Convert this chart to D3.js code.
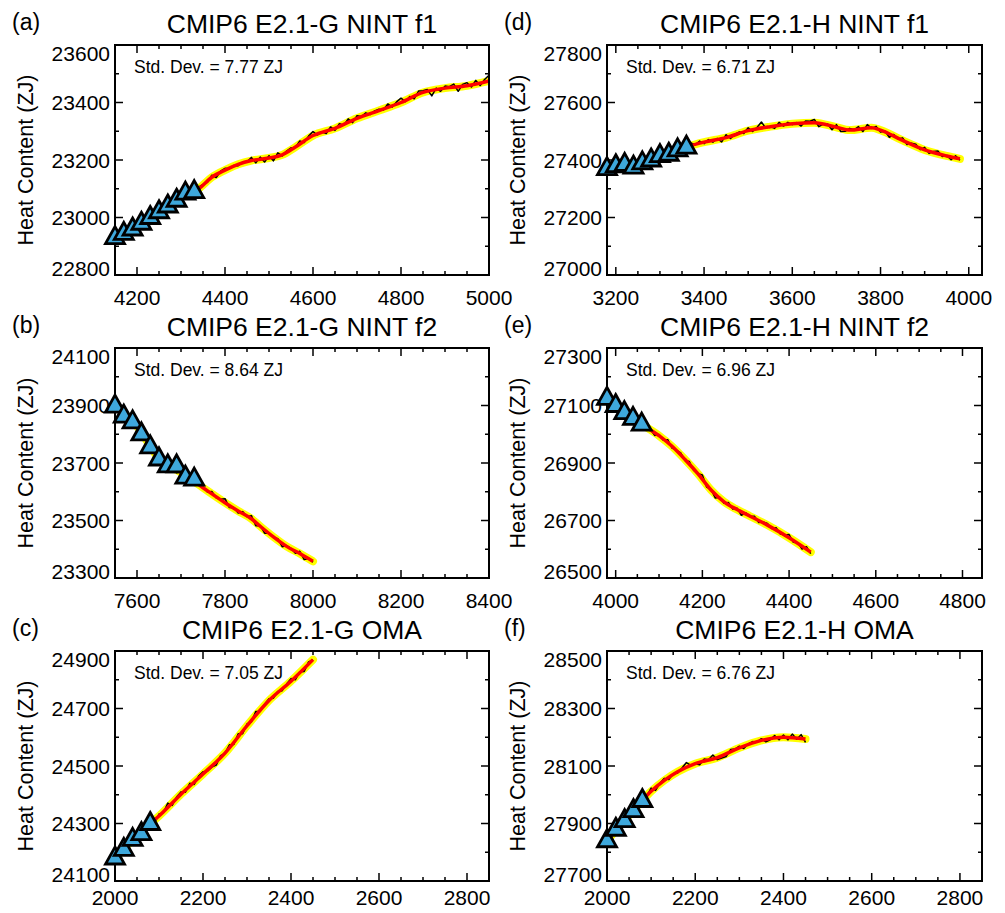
<!DOCTYPE html>
<html>
<head>
<meta charset="utf-8">
<script src="https://cdn.jsdelivr.net/npm/d3@7"></script>
<style>
  html, body { margin: 0; background: #fff; }
  svg { display: block; font-family: "Liberation Sans", Arial, sans-serif; }
</style>
</head>
<body>
<svg id="chart" width="1005" height="913"></svg>
<script>
// Ocean heat content drift, six model runs (ZJ vs model year)
const panelTags = ['(a)', '(b)', '(c)', '(d)', '(e)', '(f)'];
const panelTitles = [
  'CMIP6 E2.1-G NINT f1', 'CMIP6 E2.1-G NINT f2', 'CMIP6 E2.1-G OMA',
  'CMIP6 E2.1-H NINT f1', 'CMIP6 E2.1-H NINT f2', 'CMIP6 E2.1-H OMA'
];
const stdDevs = ['7.77', '8.64', '7.05', '6.71', '6.96', '6.76'];

const xDomains = [[4150, 5000], [7550, 8400], [2000, 2850], [3180, 4030], [3980, 4845], [2000, 2850]];
const yDomains = [[22800, 23600], [23300, 24100], [24100, 24900], [27000, 27800], [26500, 27300], [27700, 28500]];
const xTickLabels = [
  [4200, 4400, 4600, 4800, 5000], [7600, 7800, 8000, 8200, 8400], [2000, 2200, 2400, 2600, 2800],
  [3200, 3400, 3600, 3800, 4000], [4000, 4200, 4400, 4600, 4800], [2000, 2200, 2400, 2600, 2800]
];
const yTickLabels = [
  [22800, 23000, 23200, 23400, 23600], [23300, 23500, 23700, 23900, 24100], [24100, 24300, 24500, 24700, 24900],
  [27000, 27200, 27400, 27600, 27800], [26500, 26700, 26900, 27100, 27300], [27700, 27900, 28100, 28300, 28500]
];

// raw series (black), read every 10 years from the first year
const rawStart = [4150, 7550, 2000, 3180, 3980, 2000];
const rawStep = 10;
const rawA = [22932, 22933, 22953, 22948, 22964, 22978, 22977, 22992, 22990, 23019, 23014, 23039, 23034, 23051, 23052,
  23074, 23078, 23099, 23085, 23106, 23115, 23122, 23147, 23139, 23161, 23171, 23170, 23181, 23180, 23193, 23194, 23209,
  23190, 23210, 23193, 23215, 23197, 23225, 23214, 23231, 23242, 23244, 23266, 23261, 23283, 23299, 23287, 23298, 23292,
  23315, 23303, 23326, 23321, 23343, 23330, 23354, 23351, 23364, 23358, 23371, 23377, 23374, 23395, 23384, 23402, 23415,
  23403, 23421, 23413, 23440, 23441, 23445, 23423, 23450, 23439, 23457, 23455, 23464, 23439, 23463, 23469, 23454, 23477,
  23459, 23480, 23495];
const rawB = [23909, 23879, 23881, 23851, 23845, 23839, 23802, 23788, 23753, 23746, 23713, 23710, 23686, 23688, 23666,
  23672, 23653, 23656, 23630, 23630, 23618, 23599, 23601, 23579, 23574, 23576, 23545, 23545, 23526, 23531, 23513, 23517,
  23482, 23483, 23456, 23456, 23442, 23437, 23409, 23413, 23403, 23386, 23393, 23364, 23368, 23355];
const rawC = [24186, 24190, 24211, 24219, 24250, 24253, 24276, 24279, 24305, 24302, 24333, 24337, 24371, 24363, 24392,
  24410, 24409, 24440, 24436, 24465, 24480, 24482, 24496, 24503, 24536, 24544, 24574, 24575, 24612, 24612, 24646, 24653,
  24690, 24690, 24715, 24734, 24736, 24759, 24762, 24785, 24804, 24800, 24828, 24829, 24862, 24869];
const rawD = [27362, 27382, 27374, 27388, 27369, 27391, 27370, 27390, 27379, 27397, 27405, 27403, 27423, 27402, 27425,
  27437, 27430, 27443, 27435, 27459, 27453, 27466, 27457, 27471, 27462, 27475, 27463, 27488, 27475, 27490, 27498, 27492,
  27512, 27499, 27513, 27532, 27511, 27516, 27510, 27531, 27518, 27531, 27523, 27530, 27518, 27536, 27535, 27541, 27516,
  27525, 27525, 27505, 27523, 27499, 27500, 27510, 27505, 27516, 27499, 27523, 27510, 27517, 27497, 27501, 27479, 27489,
  27473, 27477, 27454, 27458, 27455, 27436, 27444, 27423, 27430, 27431, 27412, 27416, 27401, 27415, 27399];
const rawE = [27121, 27115, 27109, 27081, 27078, 27055, 27061, 27043, 27044, 27018, 27017, 26996, 26999, 26979, 26981,
  26952, 26945, 26935, 26909, 26905, 26874, 26863, 26858, 26816, 26808, 26778, 26781, 26760, 26763, 26740, 26743, 26718,
  26727, 26714, 26715, 26693, 26695, 26690, 26672, 26675, 26653, 26650, 26651, 26624, 26623, 26601, 26609, 26585];
const rawF = [27840, 27852, 27886, 27893, 27920, 27922, 27948, 27952, 27986, 27994, 28023, 28015, 28040, 28057, 28053,
  28073, 28076, 28093, 28112, 28102, 28108, 28104, 28124, 28122, 28138, 28122, 28128, 28133, 28157, 28159, 28169, 28161,
  28177, 28185, 28183, 28195, 28184, 28191, 28206, 28191, 28208, 28191, 28211, 28193, 28209, 28182];

// smoothed fit (yellow band + red line)
const fitXA = [4150, 4200, 4250, 4300, 4340, 4370, 4400, 4430, 4460, 4500, 4530, 4560, 4600, 4650, 4700, 4750, 4800, 4850, 4900, 4950, 5000];
const fitYA = [22930, 22970, 23020, 23072, 23100, 23140, 23165, 23185, 23198, 23207, 23218, 23245, 23285, 23310, 23345, 23372, 23400, 23435, 23450, 23458, 23475];
const fitXB = [7550, 7600, 7650, 7700, 7750, 7800, 7830, 7860, 7880, 7910, 7940, 7970, 8000];
const fitYB = [23900, 23828, 23716, 23667, 23614, 23562, 23533, 23506, 23480, 23443, 23410, 23385, 23358];
const fitXC = [2000, 2040, 2080, 2100, 2150, 2200, 2250, 2300, 2350, 2400, 2450];
const fitYC = [24178, 24244, 24300, 24326, 24402, 24472, 24545, 24640, 24728, 24795, 24870];
const fitXD = [3180, 3220, 3260, 3300, 3340, 3360, 3400, 3450, 3500, 3550, 3600, 3650, 3700, 3730, 3780, 3800, 3850, 3900, 3950, 3980];
const fitYD = [27370, 27382, 27386, 27411, 27434, 27445, 27462, 27478, 27502, 27516, 27526, 27530, 27514, 27504, 27512, 27504, 27468, 27435, 27414, 27404];
const fitXE = [3980, 4020, 4060, 4100, 4130, 4160, 4190, 4220, 4250, 4280, 4310, 4350, 4400, 4450];
const fitYE = [27126, 27075, 27035, 26995, 26958, 26912, 26862, 26806, 26765, 26738, 26715, 26684, 26640, 26590];
const fitXF = [2000, 2040, 2080, 2100, 2130, 2160, 2200, 2250, 2300, 2350, 2400, 2450];
const fitYF = [27840, 27911, 27980, 28012, 28050, 28080, 28108, 28129, 28163, 28189, 28200, 28194];

// spin-up markers (blue triangles)
const triXA = [4150, 4170, 4190, 4210, 4230, 4250, 4270, 4290, 4310, 4330];
const triYA = [22930, 22945, 22960, 22980, 23000, 23020, 23040, 23060, 23085, 23090];
const triXB = [7550, 7570, 7590, 7610, 7630, 7650, 7670, 7690, 7710, 7730];
const triYB = [23898, 23863, 23843, 23801, 23756, 23714, 23690, 23690, 23651, 23644];
const triXC = [2000, 2020, 2040, 2060, 2080];
const triYC = [24180, 24210, 24245, 24265, 24300];
const triXD = [3180, 3200, 3220, 3240, 3260, 3280, 3300, 3320, 3340, 3360];
const triYD = [27370, 27380, 27385, 27375, 27390, 27400, 27415, 27420, 27435, 27445];
const triXE = [3980, 4000, 4020, 4040, 4060];
const triYE = [27125, 27100, 27075, 27055, 27035];
const triXF = [2000, 2020, 2040, 2060, 2080];
const triYF = [27840, 27880, 27910, 27945, 27980];

(function () {
  const raws = [rawA, rawB, rawC, rawD, rawE, rawF];
  const fitXs = [fitXA, fitXB, fitXC, fitXD, fitXE, fitXF];
  const fitYs = [fitYA, fitYB, fitYC, fitYD, fitYE, fitYF];
  const triXs = [triXA, triXB, triXC, triXD, triXE, triXF];
  const triYs = [triYA, triYB, triYC, triYD, triYE, triYF];

  const colLeft = [115, 607];
  const colRight = [489, 982];
  const rowTop = [45, 348, 651];
  const plotH = 230;
  const xLabelGap = [30, 30, 24];

  const svg = d3.select('#chart');
  svg.append('rect').attr('width', 1005).attr('height', 913).attr('fill', '#fff');

  function drawPanel(i) {
    const col = i < 3 ? 0 : 1;
    const row = i % 3;
    const left = colLeft[col];
    const right = colRight[col];
    const top = rowTop[row];
    const bottom = top + plotH;

    const x = d3.scaleLinear().domain(xDomains[i]).range([left, right]);
    const y = d3.scaleLinear().domain(yDomains[i]).range([bottom, top]);

    const g = svg.append('g');

    g.append('clipPath')
      .attr('id', `clip${i}`)
      .append('rect')
      .attr('x', left)
      .attr('y', top)
      .attr('width', right - left)
      .attr('height', plotH);

    const plot = g.append('g').attr('clip-path', `url(#clip${i})`);

    const fit = fitXs[i].map((v, k) => ({ x: v, y: fitYs[i][k] }));
    const raw = raws[i].map((v, k) => ({ x: rawStart[i] + k * rawStep, y: v }));
    const fitLine = d3.line().x((d) => x(d.x)).y((d) => y(d.y)).curve(d3.curveMonotoneX);
    const rawLine = d3.line().x((d) => x(d.x)).y((d) => y(d.y));

    plot.append('path').datum(fit)
      .attr('fill', 'none').attr('stroke', '#ffff00').attr('stroke-width', 8)
      .attr('stroke-linecap', 'round').attr('d', fitLine);

    plot.append('path').datum(raw)
      .attr('fill', 'none').attr('stroke', '#000').attr('stroke-width', 1.5)
      .attr('stroke-linejoin', 'round')
      .attr('d', rawLine);

    plot.append('path').datum(fit)
      .attr('fill', 'none').attr('stroke', '#ff0000').attr('stroke-width', 3.5)
      .attr('d', fitLine);

    // frame + ticks on all four sides, pointing inwards
    const tickG = g.append('g').attr('stroke', '#000').attr('stroke-width', 1.5);
    const xMinor = d3.range(Math.ceil(xDomains[i][0] / 50) * 50, xDomains[i][1] + 1, 50);
    const yMinor = d3.range(yDomains[i][0], yDomains[i][1] + 1, 100);
    const xMajorSet = new Set(xTickLabels[i]);
    const yMajorSet = new Set(yTickLabels[i]);

    xMinor.forEach((v) => {
      const len = xMajorSet.has(v) ? 8 : 4;
      tickG.append('line').attr('x1', x(v)).attr('x2', x(v)).attr('y1', bottom).attr('y2', bottom - len);
      tickG.append('line').attr('x1', x(v)).attr('x2', x(v)).attr('y1', top).attr('y2', top + len);
    });
    yMinor.forEach((v) => {
      const len = yMajorSet.has(v) ? 8 : 4;
      tickG.append('line').attr('x1', left).attr('x2', left + len).attr('y1', y(v)).attr('y2', y(v));
      tickG.append('line').attr('x1', right).attr('x2', right - len).attr('y1', y(v)).attr('y2', y(v));
    });

    g.append('rect')
      .attr('x', left).attr('y', top)
      .attr('width', right - left).attr('height', plotH)
      .attr('fill', 'none').attr('stroke', '#000').attr('stroke-width', 2);

    // markers
    const tri = triXs[i].map((v, k) => ({ x: v, y: triYs[i][k] }));
    g.append('g').selectAll('path').data(tri).join('path')
      .attr('transform', (d) => `translate(${x(d.x)},${y(d.y)})`)
      .attr('d', 'M0,-11L9.5,6L-9.5,6Z')
      .attr('fill', '#3ea8dc')
      .attr('stroke', '#000')
      .attr('stroke-width', 2.8)
      .attr('stroke-linejoin', 'miter');

    // tick labels
    g.append('g').selectAll('text').data(xTickLabels[i]).join('text')
      .attr('x', (d) => x(d))
      .attr('y', bottom + xLabelGap[row])
      .attr('text-anchor', 'middle')
      .attr('font-size', 21)
      .text((d) => d);

    const yl = yTickLabels[i];
    g.append('g').selectAll('text').data(yl).join('text')
      .attr('x', left - 5)
      .attr('y', (d, k) => y(d) + 7.5 + (k === 0 ? -7 : k === yl.length - 1 ? 8 : 0))
      .attr('text-anchor', 'end')
      .attr('font-size', 21)
      .text((d) => d);

    // titles and annotations
    g.append('text')
      .attr('x', (left + right) / 2)
      .attr('y', top - 12)
      .attr('text-anchor', 'middle')
      .attr('font-size', 26.5)
      .text(panelTitles[i]);

    g.append('text')
      .attr('x', left - 103)
      .attr('y', top - 15)
      .attr('font-size', 23)
      .text(panelTags[i]);

    g.append('text')
      .attr('x', left + 19)
      .attr('y', top + 28)
      .attr('font-size', 17.5)
      .text(`Std. Dev. = ${stdDevs[i]} ZJ`);

    g.append('text')
      .attr('transform', `translate(${left - 82},${(top + bottom) / 2}) rotate(-90)`)
      .attr('text-anchor', 'middle')
      .attr('font-size', 21.5)
      .text('Heat Content (ZJ)');
  }

  d3.range(6).forEach(drawPanel);
})();
</script>
</body>
</html>
